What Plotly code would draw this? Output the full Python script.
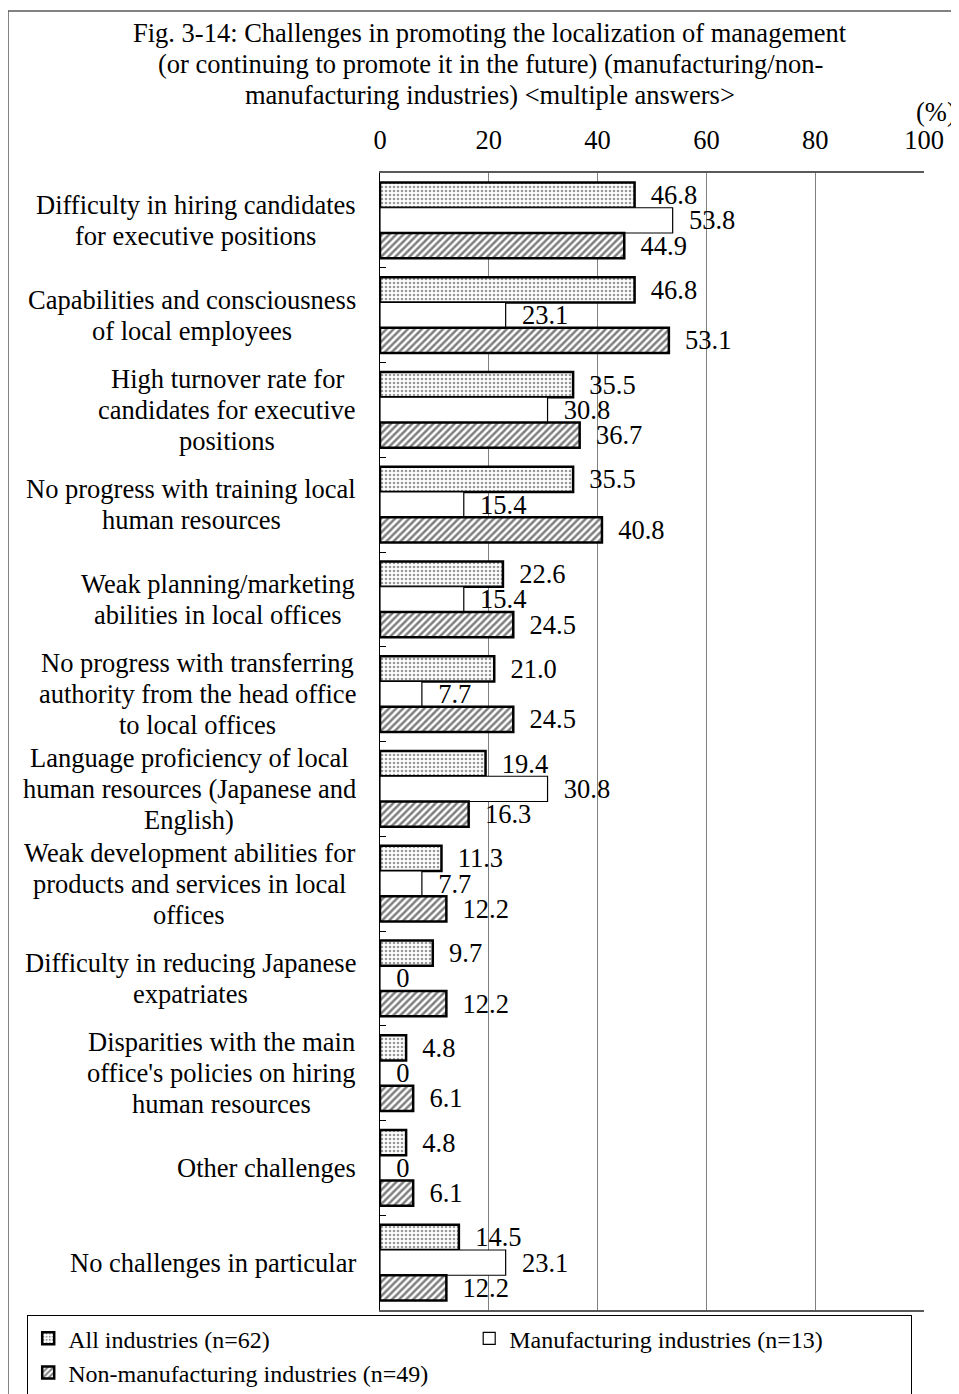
import plotly.graph_objects as go

categories = [
    "Difficulty in hiring candidates<br>for executive positions",
    "Capabilities and consciousness<br>of local employees",
    "High turnover rate for<br>candidates for executive<br>positions",
    "No progress with training local<br>human resources",
    "Weak planning/marketing<br>abilities in local offices",
    "No progress with transferring<br>authority from the head office<br>to local offices",
    "Language proficiency of local<br>human resources (Japanese and<br>English)",
    "Weak development abilities for<br>products and services in local<br>offices",
    "Difficulty in reducing Japanese<br>expatriates",
    "Disparities with the main<br>office's policies on hiring<br>human resources",
    "Other challenges",
    "No challenges in particular",
]
all_ind = [46.8, 46.8, 35.5, 35.5, 22.6, 21.0, 19.4, 11.3, 9.7, 4.8, 4.8, 14.5]
manuf = [53.8, 23.1, 30.8, 15.4, 15.4, 7.7, 30.8, 7.7, 0, 0, 0, 23.1]
nonmanuf = [44.9, 53.1, 36.7, 40.8, 24.5, 24.5, 16.3, 12.2, 12.2, 6.1, 6.1, 12.2]
series_names = ["All industries (n=62)", "Manufacturing industries (n=13)",
                "Non-manufacturing industries (n=49)"]
x_ticks = [0, 20, 40, 60, 80, 100]
title_lines = [
    "Fig. 3-14: Challenges in promoting the localization of management",
    "(or continuing to promote it in the future) (manufacturing/non-",
    "manufacturing industries) &lt;multiple answers&gt;",
]

FONT = "Liberation Serif"
FS = 26.5
LEG_FS = 24
LINE_H = 31
OFF = 8  # page offset of the figure in the browser
W, H = 959 - OFF, 1394 - OFF
# plot area in screen pixels: x 380..924, y 173..1310
L, R, T, B = 380 - OFF, 959 - 924, 173 - OFF, 1394 - 1310
PW, PH = W - L - R, H - T - B

# Times (Liberation Serif) advance widths, per 1000 em
_TW = {" ": 250, "'": 180, "(": 333, ")": 333, "/": 278, "-": 333, ".": 250}
_TW.update(dict(zip("ABCDEFGHIJKLMNOPQRSTUVWXYZ",
                    [722, 667, 667, 722, 611, 556, 722, 722, 333, 389, 722, 611, 889,
                     722, 722, 556, 722, 667, 556, 611, 722, 722, 944, 722, 722, 611])))
_TW.update(dict(zip("abcdefghijklmnopqrstuvwxyz",
                    [444, 500, 444, 500, 444, 333, 500, 500, 278, 278, 500, 278, 778,
                     500, 500, 500, 500, 333, 389, 278, 500, 500, 722, 500, 500, 444])))


def text_w(s):
    return sum(_TW.get(ch, 500) for ch in s) / 1000 * FS


def px_x(px):
    return (px - OFF - L) / PW


def px_y(py):
    return 1 - (py - OFF - T) / PH


def labels(vals):
    return ["\u2002" + (f"{v:.1f}" if v else "0") for v in vals]


fig = go.Figure()
fig.add_trace(go.Bar(
    y=categories, x=all_ind, orientation="h", name=series_names[0],
    text=labels(all_ind), textposition="outside", constraintext="none", cliponaxis=False,
    textfont=dict(family=FONT, size=FS, color="black"),
    marker=dict(color="white", line=dict(color="black", width=2.5),
                pattern=dict(shape=".", size=4, solidity=0.35, fgcolor="#333333", bgcolor="white")),
))
fig.add_trace(go.Bar(
    y=categories, x=manuf, orientation="h", name=series_names[1],
    text=labels(manuf), textposition="outside", constraintext="none", cliponaxis=False,
    textfont=dict(family=FONT, size=FS, color="black"),
    marker=dict(color="white", line=dict(color="black", width=1.2)),
))
fig.add_trace(go.Bar(
    y=categories, x=nonmanuf, orientation="h", name=series_names[2],
    text=labels(nonmanuf), textposition="outside", constraintext="none", cliponaxis=False,
    textfont=dict(family=FONT, size=FS, color="black"),
    marker=dict(color="white", line=dict(color="black", width=2.5),
                pattern=dict(shape="/", size=5, solidity=0.5, fgcolor="black", bgcolor="white")),
))

# Category labels: block right-aligned 24px left of the axis, lines centred in the block
RIGHT_GAP = 24
for c in categories:
    lines = c.split("<br>")
    block_w = max(text_w(s) for s in lines)
    n = len(lines)
    for i, s in enumerate(lines):
        fig.add_annotation(
            x=0, y=c, xref="paper", yref="y", text=s, showarrow=False,
            xanchor="center", yanchor="middle",
            xshift=-RIGHT_GAP - block_w / 2,
            yshift=-(i - (n - 1) / 2) * LINE_H,
            font=dict(family=FONT, size=FS, color="black"),
        )

# title, one line per annotation for tight line spacing
for i, line in enumerate(title_lines):
    fig.add_annotation(
        x=px_x(490), y=px_y(33 + LINE_H * i), xref="paper", yref="paper", text=line,
        showarrow=False, xanchor="center", yanchor="middle",
        font=dict(family=FONT, size=FS, color="black"),
    )

fig.add_annotation(
    x=px_x(958), y=px_y(112), xref="paper", yref="paper", text="(%)",
    showarrow=False, xanchor="right", yanchor="middle",
    font=dict(family=FONT, size=FS, color="black"),
)

# outer frame
fig.add_shape(type="rect", xref="paper", yref="paper",
              x0=px_x(8), x1=px_x(990), y0=px_y(1420), y1=px_y(11),
              line=dict(color="#595959", width=1.5), layer="below")

fig.update_layout(
    width=W, height=H,
    margin=dict(l=L, r=R, t=T, b=B, autoexpand=False),
    paper_bgcolor="white", plot_bgcolor="white",
    font=dict(family=FONT, size=FS, color="black"),
    barmode="group", bargap=0.2, bargroupgap=0,
    showlegend=True,
    legend=dict(
        orientation="h", xref="paper", yref="paper",
        x=px_x(27), xanchor="left",
        y=px_y(1315), yanchor="top",
        bordercolor="black", borderwidth=1.2, bgcolor="white",
        font=dict(family=FONT, size=LEG_FS, color="black"),
        entrywidth=396, entrywidthmode="pixels",
        itemwidth=30, tracegroupgap=0,
    ),
    xaxis=dict(
        side="top", range=[0, 100], tickvals=x_ticks, ticktext=[str(v) for v in x_ticks],
        showgrid=True, gridcolor="#808080", gridwidth=1,
        showline=True, linecolor="#595959", linewidth=1.5, mirror=True,
        ticks="", ticklabelstandoff=12, zeroline=False,
        tickfont=dict(family=FONT, size=FS, color="black"),
    ),
    yaxis=dict(
        autorange="reversed", showticklabels=False,
        showline=True, linecolor="black", linewidth=1.2,
        ticks="inside", tickson="boundaries", ticklen=6, tickcolor="black",
        showgrid=False, zeroline=False,
    ),
)

fig.write_html("out.html")
